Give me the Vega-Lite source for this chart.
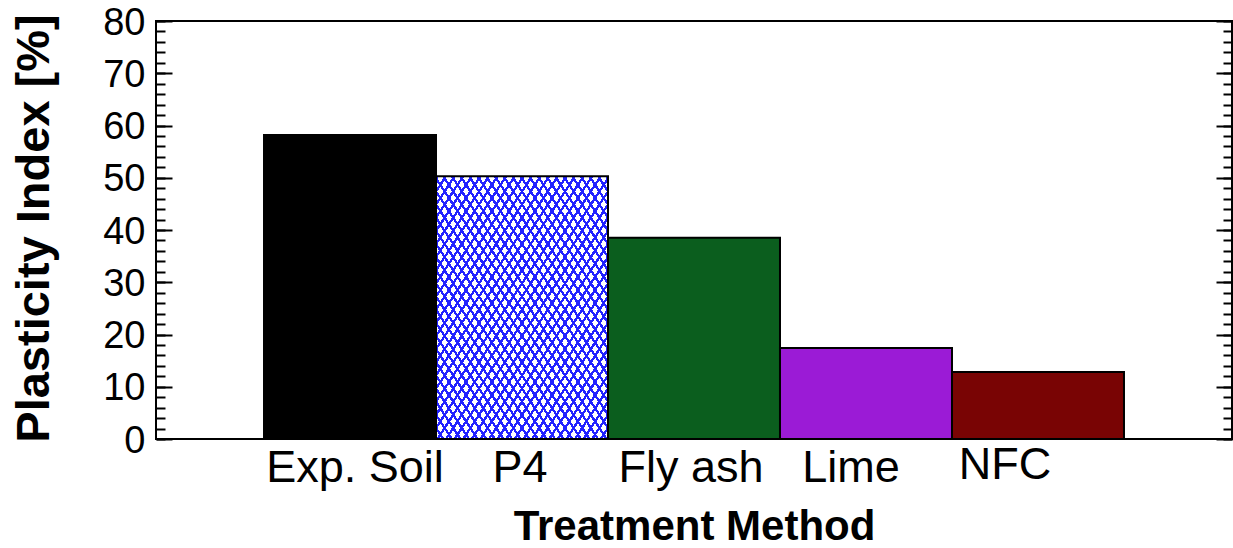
{
  "$schema": "https://vega.github.io/schema/vega-lite/v6.json",
  "width": 1076,
  "height": 418,
  "autosize": {"type": "none"},
  "padding": {"left": 156, "top": 21, "right": 1, "bottom": 109},
  "config": {
    "view": {"stroke": "#000000", "strokeWidth": 2},
    "font": "Liberation Sans",
    "axis": {"labelFont": "Liberation Sans", "titleFont": "Liberation Sans", "labelColor": "#000000", "titleColor": "#000000", "tickColor": "#000000", "domain": false, "grid": false}
  },
  "data": {
    "values": [
      {"method": "Exp. Soil", "pi": 58.2},
      {"method": "P4", "pi": 50.3},
      {"method": "Fly ash", "pi": 38.5},
      {"method": "Lime", "pi": 17.4},
      {"method": "NFC", "pi": 12.8}
    ]
  },
  "encoding": {
    "x": {
      "field": "method",
      "type": "nominal",
      "scale": {"domain": ["Exp. Soil", "P4", "Fly ash", "Lime", "NFC"], "paddingInner": 0, "paddingOuter": 0.628},
      "axis": {
        "title": "Treatment Method",
        "titleFontSize": 42,
        "titleFontWeight": "bold",
        "titleY": 100,
        "titleBaseline": "alphabetic",
        "labelFontSize": 45,
        "labelAngle": 0,
        "labelPadding": {"condition": {"test": "datum.value === 'NFC'", "value": 3}, "value": 6},
        "labelOffset": {"condition": [
          {"test": "datum.value === 'Exp. Soil'", "value": 5},
          {"test": "datum.value === 'P4'", "value": -2},
          {"test": "datum.value === 'Fly ash'", "value": -3},
          {"test": "datum.value === 'Lime'", "value": -15},
          {"test": "datum.value === 'NFC'", "value": -33}
        ], "value": 0},
        "ticks": false,
        "tickSize": 0,
        "domain": false
      }
    }
  },
  "layer": [
    {
      "mark": {"type": "bar"},
      "encoding": {
        "y": {
          "field": "pi", "type": "quantitative",
          "scale": {"domain": [0, 80], "nice": false},
          "axis": {
            "title": "Plasticity Index [%]",
            "titleFontSize": 47,
            "titleFontWeight": "bold",
            "titleX": -108,
            "titleY": 207,
            "titleAngle": -90,
            "titleAlign": "center",
            "titleBaseline": "alphabetic",
            "values": [0, 10, 20, 30, 40, 50, 60, 70, 80],
            "labelFontSize": 38,
            "labelPadding": 11,
            "labelOffset": 2,
            "ticks": false,
            "tickSize": 0,
            "domain": false
          }
        },
        "color": {
          "field": "method", "type": "nominal",
          "scale": {"domain": ["Exp. Soil", "P4", "Fly ash", "Lime", "NFC"], "range": ["#000000", "#ffffff", "#0b5e1e", "#9b1bd6", "#790404"]},
          "legend": null
        }
      }
    },
    {
      "transform": [{"filter": "datum.method === 'P4'"}],
      "mark": {
        "type": "bar",
        "fill": {
          "gradient": "linear", "x1": 0, "y1": 0, "x2": 1, "y2": 1,
          "stops": [
            {"offset": 0, "color": "#22f"}, {"offset": 0.008, "color": "#22f"}, {"offset": 0.008, "color": "#fff"}, {"offset": 0.025, "color": "#fff"},
            {"offset": 0.025, "color": "#22f"}, {"offset": 0.033, "color": "#22f"}, {"offset": 0.033, "color": "#fff"}, {"offset": 0.05, "color": "#fff"},
            {"offset": 0.05, "color": "#22f"}, {"offset": 0.058, "color": "#22f"}, {"offset": 0.058, "color": "#fff"}, {"offset": 0.075, "color": "#fff"},
            {"offset": 0.075, "color": "#22f"}, {"offset": 0.083, "color": "#22f"}, {"offset": 0.083, "color": "#fff"}, {"offset": 0.1, "color": "#fff"},
            {"offset": 0.1, "color": "#22f"}, {"offset": 0.108, "color": "#22f"}, {"offset": 0.108, "color": "#fff"}, {"offset": 0.125, "color": "#fff"},
            {"offset": 0.125, "color": "#22f"}, {"offset": 0.133, "color": "#22f"}, {"offset": 0.133, "color": "#fff"}, {"offset": 0.15, "color": "#fff"},
            {"offset": 0.15, "color": "#22f"}, {"offset": 0.158, "color": "#22f"}, {"offset": 0.158, "color": "#fff"}, {"offset": 0.175, "color": "#fff"},
            {"offset": 0.175, "color": "#22f"}, {"offset": 0.183, "color": "#22f"}, {"offset": 0.183, "color": "#fff"}, {"offset": 0.2, "color": "#fff"},
            {"offset": 0.2, "color": "#22f"}, {"offset": 0.208, "color": "#22f"}, {"offset": 0.208, "color": "#fff"}, {"offset": 0.225, "color": "#fff"},
            {"offset": 0.225, "color": "#22f"}, {"offset": 0.233, "color": "#22f"}, {"offset": 0.233, "color": "#fff"}, {"offset": 0.25, "color": "#fff"},
            {"offset": 0.25, "color": "#22f"}, {"offset": 0.258, "color": "#22f"}, {"offset": 0.258, "color": "#fff"}, {"offset": 0.275, "color": "#fff"},
            {"offset": 0.275, "color": "#22f"}, {"offset": 0.283, "color": "#22f"}, {"offset": 0.283, "color": "#fff"}, {"offset": 0.3, "color": "#fff"},
            {"offset": 0.3, "color": "#22f"}, {"offset": 0.308, "color": "#22f"}, {"offset": 0.308, "color": "#fff"}, {"offset": 0.325, "color": "#fff"},
            {"offset": 0.325, "color": "#22f"}, {"offset": 0.333, "color": "#22f"}, {"offset": 0.333, "color": "#fff"}, {"offset": 0.35, "color": "#fff"},
            {"offset": 0.35, "color": "#22f"}, {"offset": 0.358, "color": "#22f"}, {"offset": 0.358, "color": "#fff"}, {"offset": 0.375, "color": "#fff"},
            {"offset": 0.375, "color": "#22f"}, {"offset": 0.383, "color": "#22f"}, {"offset": 0.383, "color": "#fff"}, {"offset": 0.4, "color": "#fff"},
            {"offset": 0.4, "color": "#22f"}, {"offset": 0.408, "color": "#22f"}, {"offset": 0.408, "color": "#fff"}, {"offset": 0.425, "color": "#fff"},
            {"offset": 0.425, "color": "#22f"}, {"offset": 0.433, "color": "#22f"}, {"offset": 0.433, "color": "#fff"}, {"offset": 0.45, "color": "#fff"},
            {"offset": 0.45, "color": "#22f"}, {"offset": 0.458, "color": "#22f"}, {"offset": 0.458, "color": "#fff"}, {"offset": 0.475, "color": "#fff"},
            {"offset": 0.475, "color": "#22f"}, {"offset": 0.483, "color": "#22f"}, {"offset": 0.483, "color": "#fff"}, {"offset": 0.5, "color": "#fff"},
            {"offset": 0.5, "color": "#22f"}, {"offset": 0.508, "color": "#22f"}, {"offset": 0.508, "color": "#fff"}, {"offset": 0.525, "color": "#fff"},
            {"offset": 0.525, "color": "#22f"}, {"offset": 0.533, "color": "#22f"}, {"offset": 0.533, "color": "#fff"}, {"offset": 0.55, "color": "#fff"},
            {"offset": 0.55, "color": "#22f"}, {"offset": 0.558, "color": "#22f"}, {"offset": 0.558, "color": "#fff"}, {"offset": 0.575, "color": "#fff"},
            {"offset": 0.575, "color": "#22f"}, {"offset": 0.583, "color": "#22f"}, {"offset": 0.583, "color": "#fff"}, {"offset": 0.6, "color": "#fff"},
            {"offset": 0.6, "color": "#22f"}, {"offset": 0.608, "color": "#22f"}, {"offset": 0.608, "color": "#fff"}, {"offset": 0.625, "color": "#fff"},
            {"offset": 0.625, "color": "#22f"}, {"offset": 0.633, "color": "#22f"}, {"offset": 0.633, "color": "#fff"}, {"offset": 0.65, "color": "#fff"},
            {"offset": 0.65, "color": "#22f"}, {"offset": 0.658, "color": "#22f"}, {"offset": 0.658, "color": "#fff"}, {"offset": 0.675, "color": "#fff"},
            {"offset": 0.675, "color": "#22f"}, {"offset": 0.683, "color": "#22f"}, {"offset": 0.683, "color": "#fff"}, {"offset": 0.7, "color": "#fff"},
            {"offset": 0.7, "color": "#22f"}, {"offset": 0.708, "color": "#22f"}, {"offset": 0.708, "color": "#fff"}, {"offset": 0.725, "color": "#fff"},
            {"offset": 0.725, "color": "#22f"}, {"offset": 0.733, "color": "#22f"}, {"offset": 0.733, "color": "#fff"}, {"offset": 0.75, "color": "#fff"},
            {"offset": 0.75, "color": "#22f"}, {"offset": 0.758, "color": "#22f"}, {"offset": 0.758, "color": "#fff"}, {"offset": 0.775, "color": "#fff"},
            {"offset": 0.775, "color": "#22f"}, {"offset": 0.783, "color": "#22f"}, {"offset": 0.783, "color": "#fff"}, {"offset": 0.8, "color": "#fff"},
            {"offset": 0.8, "color": "#22f"}, {"offset": 0.808, "color": "#22f"}, {"offset": 0.808, "color": "#fff"}, {"offset": 0.825, "color": "#fff"},
            {"offset": 0.825, "color": "#22f"}, {"offset": 0.833, "color": "#22f"}, {"offset": 0.833, "color": "#fff"}, {"offset": 0.85, "color": "#fff"},
            {"offset": 0.85, "color": "#22f"}, {"offset": 0.858, "color": "#22f"}, {"offset": 0.858, "color": "#fff"}, {"offset": 0.875, "color": "#fff"},
            {"offset": 0.875, "color": "#22f"}, {"offset": 0.883, "color": "#22f"}, {"offset": 0.883, "color": "#fff"}, {"offset": 0.9, "color": "#fff"},
            {"offset": 0.9, "color": "#22f"}, {"offset": 0.908, "color": "#22f"}, {"offset": 0.908, "color": "#fff"}, {"offset": 0.925, "color": "#fff"},
            {"offset": 0.925, "color": "#22f"}, {"offset": 0.933, "color": "#22f"}, {"offset": 0.933, "color": "#fff"}, {"offset": 0.95, "color": "#fff"},
            {"offset": 0.95, "color": "#22f"}, {"offset": 0.958, "color": "#22f"}, {"offset": 0.958, "color": "#fff"}, {"offset": 0.975, "color": "#fff"},
            {"offset": 0.975, "color": "#22f"}, {"offset": 0.983, "color": "#22f"}, {"offset": 0.983, "color": "#fff"}, {"offset": 1, "color": "#fff"}
          ]
        }
      },
      "encoding": {
        "y": {
          "field": "pi", "type": "quantitative",
          "scale": {"domain": [0, 80], "nice": false},
          "axis": {"orient": "left", "values": [0, 2, 4, 6, 8, 10, 12, 14, 16, 18, 20, 22, 24, 26, 28, 30, 32, 34, 36, 38, 40, 42, 44, 46, 48, 50, 52, 54, 56, 58, 60, 62, 64, 66, 68, 70, 72, 74, 76, 78, 80], "tickSize": -9, "tickWidth": 2, "labels": false, "title": null, "domain": false}
        }
      }
    },
    {
      "transform": [{"filter": "datum.method === 'P4'"}],
      "mark": {
        "type": "bar",
        "fill": {
          "gradient": "linear", "x1": 1, "y1": 0, "x2": 0, "y2": 1,
          "stops": [
            {"offset": 0, "color": "#22f"}, {"offset": 0.008, "color": "#22f"}, {"offset": 0.008, "color": "rgba(0,0,0,0)"}, {"offset": 0.025, "color": "rgba(0,0,0,0)"},
            {"offset": 0.025, "color": "#22f"}, {"offset": 0.033, "color": "#22f"}, {"offset": 0.033, "color": "rgba(0,0,0,0)"}, {"offset": 0.05, "color": "rgba(0,0,0,0)"},
            {"offset": 0.05, "color": "#22f"}, {"offset": 0.058, "color": "#22f"}, {"offset": 0.058, "color": "rgba(0,0,0,0)"}, {"offset": 0.075, "color": "rgba(0,0,0,0)"},
            {"offset": 0.075, "color": "#22f"}, {"offset": 0.083, "color": "#22f"}, {"offset": 0.083, "color": "rgba(0,0,0,0)"}, {"offset": 0.1, "color": "rgba(0,0,0,0)"},
            {"offset": 0.1, "color": "#22f"}, {"offset": 0.108, "color": "#22f"}, {"offset": 0.108, "color": "rgba(0,0,0,0)"}, {"offset": 0.125, "color": "rgba(0,0,0,0)"},
            {"offset": 0.125, "color": "#22f"}, {"offset": 0.133, "color": "#22f"}, {"offset": 0.133, "color": "rgba(0,0,0,0)"}, {"offset": 0.15, "color": "rgba(0,0,0,0)"},
            {"offset": 0.15, "color": "#22f"}, {"offset": 0.158, "color": "#22f"}, {"offset": 0.158, "color": "rgba(0,0,0,0)"}, {"offset": 0.175, "color": "rgba(0,0,0,0)"},
            {"offset": 0.175, "color": "#22f"}, {"offset": 0.183, "color": "#22f"}, {"offset": 0.183, "color": "rgba(0,0,0,0)"}, {"offset": 0.2, "color": "rgba(0,0,0,0)"},
            {"offset": 0.2, "color": "#22f"}, {"offset": 0.208, "color": "#22f"}, {"offset": 0.208, "color": "rgba(0,0,0,0)"}, {"offset": 0.225, "color": "rgba(0,0,0,0)"},
            {"offset": 0.225, "color": "#22f"}, {"offset": 0.233, "color": "#22f"}, {"offset": 0.233, "color": "rgba(0,0,0,0)"}, {"offset": 0.25, "color": "rgba(0,0,0,0)"},
            {"offset": 0.25, "color": "#22f"}, {"offset": 0.258, "color": "#22f"}, {"offset": 0.258, "color": "rgba(0,0,0,0)"}, {"offset": 0.275, "color": "rgba(0,0,0,0)"},
            {"offset": 0.275, "color": "#22f"}, {"offset": 0.283, "color": "#22f"}, {"offset": 0.283, "color": "rgba(0,0,0,0)"}, {"offset": 0.3, "color": "rgba(0,0,0,0)"},
            {"offset": 0.3, "color": "#22f"}, {"offset": 0.308, "color": "#22f"}, {"offset": 0.308, "color": "rgba(0,0,0,0)"}, {"offset": 0.325, "color": "rgba(0,0,0,0)"},
            {"offset": 0.325, "color": "#22f"}, {"offset": 0.333, "color": "#22f"}, {"offset": 0.333, "color": "rgba(0,0,0,0)"}, {"offset": 0.35, "color": "rgba(0,0,0,0)"},
            {"offset": 0.35, "color": "#22f"}, {"offset": 0.358, "color": "#22f"}, {"offset": 0.358, "color": "rgba(0,0,0,0)"}, {"offset": 0.375, "color": "rgba(0,0,0,0)"},
            {"offset": 0.375, "color": "#22f"}, {"offset": 0.383, "color": "#22f"}, {"offset": 0.383, "color": "rgba(0,0,0,0)"}, {"offset": 0.4, "color": "rgba(0,0,0,0)"},
            {"offset": 0.4, "color": "#22f"}, {"offset": 0.408, "color": "#22f"}, {"offset": 0.408, "color": "rgba(0,0,0,0)"}, {"offset": 0.425, "color": "rgba(0,0,0,0)"},
            {"offset": 0.425, "color": "#22f"}, {"offset": 0.433, "color": "#22f"}, {"offset": 0.433, "color": "rgba(0,0,0,0)"}, {"offset": 0.45, "color": "rgba(0,0,0,0)"},
            {"offset": 0.45, "color": "#22f"}, {"offset": 0.458, "color": "#22f"}, {"offset": 0.458, "color": "rgba(0,0,0,0)"}, {"offset": 0.475, "color": "rgba(0,0,0,0)"},
            {"offset": 0.475, "color": "#22f"}, {"offset": 0.483, "color": "#22f"}, {"offset": 0.483, "color": "rgba(0,0,0,0)"}, {"offset": 0.5, "color": "rgba(0,0,0,0)"},
            {"offset": 0.5, "color": "#22f"}, {"offset": 0.508, "color": "#22f"}, {"offset": 0.508, "color": "rgba(0,0,0,0)"}, {"offset": 0.525, "color": "rgba(0,0,0,0)"},
            {"offset": 0.525, "color": "#22f"}, {"offset": 0.533, "color": "#22f"}, {"offset": 0.533, "color": "rgba(0,0,0,0)"}, {"offset": 0.55, "color": "rgba(0,0,0,0)"},
            {"offset": 0.55, "color": "#22f"}, {"offset": 0.558, "color": "#22f"}, {"offset": 0.558, "color": "rgba(0,0,0,0)"}, {"offset": 0.575, "color": "rgba(0,0,0,0)"},
            {"offset": 0.575, "color": "#22f"}, {"offset": 0.583, "color": "#22f"}, {"offset": 0.583, "color": "rgba(0,0,0,0)"}, {"offset": 0.6, "color": "rgba(0,0,0,0)"},
            {"offset": 0.6, "color": "#22f"}, {"offset": 0.608, "color": "#22f"}, {"offset": 0.608, "color": "rgba(0,0,0,0)"}, {"offset": 0.625, "color": "rgba(0,0,0,0)"},
            {"offset": 0.625, "color": "#22f"}, {"offset": 0.633, "color": "#22f"}, {"offset": 0.633, "color": "rgba(0,0,0,0)"}, {"offset": 0.65, "color": "rgba(0,0,0,0)"},
            {"offset": 0.65, "color": "#22f"}, {"offset": 0.658, "color": "#22f"}, {"offset": 0.658, "color": "rgba(0,0,0,0)"}, {"offset": 0.675, "color": "rgba(0,0,0,0)"},
            {"offset": 0.675, "color": "#22f"}, {"offset": 0.683, "color": "#22f"}, {"offset": 0.683, "color": "rgba(0,0,0,0)"}, {"offset": 0.7, "color": "rgba(0,0,0,0)"},
            {"offset": 0.7, "color": "#22f"}, {"offset": 0.708, "color": "#22f"}, {"offset": 0.708, "color": "rgba(0,0,0,0)"}, {"offset": 0.725, "color": "rgba(0,0,0,0)"},
            {"offset": 0.725, "color": "#22f"}, {"offset": 0.733, "color": "#22f"}, {"offset": 0.733, "color": "rgba(0,0,0,0)"}, {"offset": 0.75, "color": "rgba(0,0,0,0)"},
            {"offset": 0.75, "color": "#22f"}, {"offset": 0.758, "color": "#22f"}, {"offset": 0.758, "color": "rgba(0,0,0,0)"}, {"offset": 0.775, "color": "rgba(0,0,0,0)"},
            {"offset": 0.775, "color": "#22f"}, {"offset": 0.783, "color": "#22f"}, {"offset": 0.783, "color": "rgba(0,0,0,0)"}, {"offset": 0.8, "color": "rgba(0,0,0,0)"},
            {"offset": 0.8, "color": "#22f"}, {"offset": 0.808, "color": "#22f"}, {"offset": 0.808, "color": "rgba(0,0,0,0)"}, {"offset": 0.825, "color": "rgba(0,0,0,0)"},
            {"offset": 0.825, "color": "#22f"}, {"offset": 0.833, "color": "#22f"}, {"offset": 0.833, "color": "rgba(0,0,0,0)"}, {"offset": 0.85, "color": "rgba(0,0,0,0)"},
            {"offset": 0.85, "color": "#22f"}, {"offset": 0.858, "color": "#22f"}, {"offset": 0.858, "color": "rgba(0,0,0,0)"}, {"offset": 0.875, "color": "rgba(0,0,0,0)"},
            {"offset": 0.875, "color": "#22f"}, {"offset": 0.883, "color": "#22f"}, {"offset": 0.883, "color": "rgba(0,0,0,0)"}, {"offset": 0.9, "color": "rgba(0,0,0,0)"},
            {"offset": 0.9, "color": "#22f"}, {"offset": 0.908, "color": "#22f"}, {"offset": 0.908, "color": "rgba(0,0,0,0)"}, {"offset": 0.925, "color": "rgba(0,0,0,0)"},
            {"offset": 0.925, "color": "#22f"}, {"offset": 0.933, "color": "#22f"}, {"offset": 0.933, "color": "rgba(0,0,0,0)"}, {"offset": 0.95, "color": "rgba(0,0,0,0)"},
            {"offset": 0.95, "color": "#22f"}, {"offset": 0.958, "color": "#22f"}, {"offset": 0.958, "color": "rgba(0,0,0,0)"}, {"offset": 0.975, "color": "rgba(0,0,0,0)"},
            {"offset": 0.975, "color": "#22f"}, {"offset": 0.983, "color": "#22f"}, {"offset": 0.983, "color": "rgba(0,0,0,0)"}, {"offset": 1, "color": "rgba(0,0,0,0)"}
          ]
        }
      },
      "encoding": {
        "y": {
          "field": "pi", "type": "quantitative",
          "scale": {"domain": [0, 80], "nice": false},
          "axis": {"orient": "left", "values": [0, 10, 20, 30, 40, 50, 60, 70, 80], "tickSize": -16, "tickWidth": 2, "labels": false, "title": null, "domain": false}
        }
      }
    },
    {
      "mark": {"type": "bar", "fillOpacity": 0, "stroke": "#000000", "strokeWidth": 2},
      "encoding": {
        "y": {
          "field": "pi", "type": "quantitative",
          "scale": {"domain": [0, 80], "nice": false},
          "axis": {"orient": "right", "values": [0, 2, 4, 6, 8, 10, 12, 14, 16, 18, 20, 22, 24, 26, 28, 30, 32, 34, 36, 38, 40, 42, 44, 46, 48, 50, 52, 54, 56, 58, 60, 62, 64, 66, 68, 70, 72, 74, 76, 78, 80], "tickSize": -9, "tickWidth": 2, "labels": false, "title": null, "domain": false}
        }
      }
    },
    {
      "mark": {"type": "bar", "opacity": 0},
      "encoding": {
        "y": {
          "field": "pi", "type": "quantitative",
          "scale": {"domain": [0, 80], "nice": false},
          "axis": {"orient": "right", "values": [0, 10, 20, 30, 40, 50, 60, 70, 80], "tickSize": -16, "tickWidth": 2, "labels": false, "title": null, "domain": false}
        }
      }
    }
  ],
  "resolve": {"axis": {"y": "independent"}}
}
